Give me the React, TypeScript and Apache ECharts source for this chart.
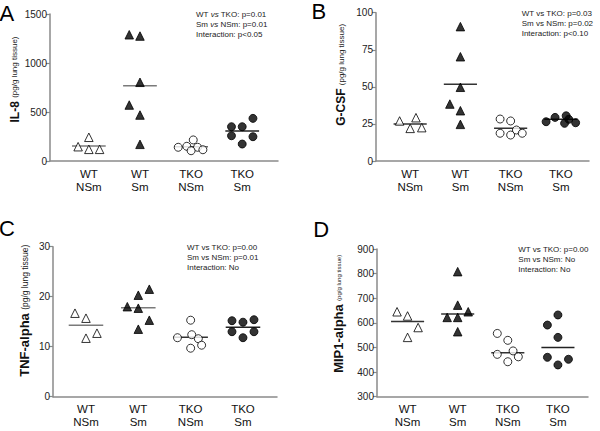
import React, { useEffect, useRef } from 'react';
import * as echarts from 'echarts';

const FONT = "'Liberation Sans', Arial, Helvetica, sans-serif";
const groupLabels = ['WT\nNSm', 'WT\nSm', 'TKO\nNSm', 'TKO\nSm'];
const jitterSlot = 0.21;

// Panel A: IL-8
const il8WtNSm = [242, 146, 119, 119];
const il8WtNSmJit = [0, -1, 0, 1];
const il8WtSm = [1288, 1275, 803, 571, 469, 170];
const il8WtSmJit = [-1, 0, 0, -1, 0, 0];
const il8TkoNSm = [215, 140, 150, 140, 105, 115];
const il8TkoNSmJit = [0.2, -1.2, -0.4, 0.6, 0.0, 1.1];
const il8TkoSm = [350, 350, 435, 258, 248, 173];
const il8TkoSmJit = [-1, 0, 1, -1, 1, 0];
const il8Means = [153, 768, 146, 306];

// Panel B: G-CSF
const gcsfWtNSm = [27.0, 29.2, 22.0, 22.5];
const gcsfWtNSmJit = [-1, 0.55, 0, 1.1];
const gcsfWtSm = [90.6, 70.3, 49.7, 38.4, 33.9, 24.7];
const gcsfWtSmJit = [0, 0, 0, -1, 0, 0];
const gcsfTkoNSm = [28.3, 27.0, 18.7, 17.5, 20.9, 18.7];
const gcsfTkoNSmJit = [-1, 0, -1, 0, 0.55, 1.1];
const gcsfTkoSm = [26.5, 29.4, 30.5, 28.1, 25.4, 25.8];
const gcsfTkoSmJit = [-1.4, -0.55, 0.5, 0.75, 0.35, 1.4];
const gcsfMeans = [25, 51.7, 22, 28.1];

// Panel C: TNF-alpha
const tnfWtNSm = [16.7, 15.7, 11.7, 12.7];
const tnfWtNSmJit = [-1, 0, 0, 1];
const tnfWtSm = [21.5, 20.3, 18.0, 17.7, 15.3, 13.5];
const tnfWtSmJit = [1, 0, -1, 0, 1, 0];
const tnfTkoNSm = [15.3, 11.8, 12.4, 11.6, 9.7, 10.3];
const tnfTkoNSmJit = [0, -1.2, 0.1, 0.7, 0, 1.0];
const tnfTkoSm = [15.2, 14.9, 15.4, 13.0, 13.0, 11.8];
const tnfTkoSmJit = [-1, 0, 1, -1, 1, 0];
const tnfMeans = [14.3, 17.8, 11.9, 13.9];

// Panel D: MIP1-alpha
const mipWtNSm = [645, 628, 581, 541];
const mipWtNSmJit = [-1, 0, 1, 0];
const mipWtSm = [808, 672, 622, 622, 645, 564];
const mipWtSmJit = [0, 0, -1, 0, 1, 0];
const mipTkoNSm = [557, 529, 486, 472, 462, 442];
const mipTkoNSmJit = [-1, 0, 0.5, -1, 1, 0];
const mipTkoSm = [632, 591, 541, 460, 429, 452];
const mipTkoSmJit = [0, -1, 0, -1, 0, 1];
const mipMeans = [605, 636, 479, 500];

const statsA = ['WT {i|vs} TKO: p=0.01', 'Sm {i|vs} NSm: p=0.01', 'Interaction: p<0.05'];
const statsB = ['WT vs TKO: p=0.03', 'Sm vs NSm: p=0.02', 'Interaction: p<0.10'];
const statsC = ['WT vs TKO: p=0.00', 'Sm vs NSm: p=0.01', 'Interaction: No'];
const statsD = ['WT vs TKO: p=0.00', 'Sm vs NSm: No', 'Interaction: No'];

type PanelCfg = {
  grid: { left: number; top: number; width: number; height: number };
  xMin: number; xMax: number;
  yMin: number; yMax: number; yInterval: number;
  name: string; boldSize: number; smallSize: number; nameGap: number; namePad: number;
  groups: number[][]; jits: number[][]; means: number[]; lineColors: string[];
};

const markerStyles = [
  { symbol: 'triangle', fill: '#ffffff' },
  { symbol: 'triangle', fill: '#000000' },
  { symbol: 'circle', fill: '#ffffff' },
  { symbol: 'circle', fill: '#000000' },
];

const panels: PanelCfg[] = [
  {
    grid: { left: 50, top: 14, width: 228, height: 147 },
    xMin: 0.24, xMax: 4.7, yMin: 0, yMax: 1500, yInterval: 500,
    name: 'IL-8', boldSize: 12, smallSize: 8, nameGap: 27, namePad: 16,
    groups: [il8WtNSm, il8WtSm, il8TkoNSm, il8TkoSm],
    jits: [il8WtNSmJit, il8WtSmJit, il8TkoNSmJit, il8TkoSmJit],
    means: il8Means, lineColors: ['#7a7a7a', '#7a7a7a', '#666666', '#222222'],
  },
  {
    grid: { left: 376, top: 12.7, width: 213, height: 148.3 },
    xMin: 0.32, xMax: 4.56, yMin: 0, yMax: 100, yInterval: 25,
    name: 'G-CSF', boldSize: 12, smallSize: 8, nameGap: 29, namePad: 24,
    groups: [gcsfWtNSm, gcsfWtSm, gcsfTkoNSm, gcsfTkoSm],
    jits: [gcsfWtNSmJit, gcsfWtSmJit, gcsfTkoNSmJit, gcsfTkoSmJit],
    means: gcsfMeans, lineColors: ['#333333', '#333333', '#333333', '#222222'],
  },
  {
    grid: { left: 53, top: 246.7, width: 224, height: 150 },
    xMin: 0.37, xMax: 4.65, yMin: 0, yMax: 30, yInterval: 10,
    name: 'TNF-alpha', boldSize: 13, smallSize: 8.5, nameGap: 22, namePad: 22,
    groups: [tnfWtNSm, tnfWtSm, tnfTkoNSm, tnfTkoSm],
    jits: [tnfWtNSmJit, tnfWtSmJit, tnfTkoNSmJit, tnfTkoSmJit],
    means: tnfMeans, lineColors: ['#7a7a7a', '#7a7a7a', '#333333', '#222222'],
  },
  {
    grid: { left: 377, top: 249, width: 211, height: 147.7 },
    xMin: 0.39, xMax: 4.6, yMin: 300, yMax: 900, yInterval: 100,
    name: 'MIP1-alpha', boldSize: 13, smallSize: 6, nameGap: 32, namePad: 18,
    groups: [mipWtNSm, mipWtSm, mipTkoNSm, mipTkoSm],
    jits: [mipWtNSmJit, mipWtSmJit, mipTkoNSmJit, mipTkoSmJit],
    means: mipMeans, lineColors: ['#333333', '#333333', '#333333', '#222222'],
  },
];

function buildOption() {
  const grid: any[] = [];
  const xAxis: any[] = [];
  const yAxis: any[] = [];
  const series: any[] = [];
  panels.forEach((p, pi) => {
    grid.push({ ...p.grid, containLabel: false });
    xAxis.push({
      type: 'value', gridIndex: pi, min: p.xMin, max: p.xMax,
      axisLine: { show: true, lineStyle: { color: '#8a8a8a', width: 1.5 } },
      axisTick: { show: false },
      splitLine: { show: false },
      axisLabel: {
        customValues: [1, 2, 3, 4],
        formatter: (v: number) => groupLabels[Math.round(v) - 1] ?? '',
        fontFamily: FONT, fontSize: 11.5, lineHeight: 13, color: '#111', margin: 6,
      },
    });
    yAxis.push({
      type: 'value', gridIndex: pi, min: p.yMin, max: p.yMax, interval: p.yInterval,
      axisLine: { show: true, lineStyle: { color: '#8a8a8a', width: 1.5 } },
      axisTick: { show: true, length: 4, lineStyle: { color: '#8a8a8a', width: 1.2 } },
      splitLine: { show: false },
      axisLabel: {
        fontFamily: FONT, fontSize: 10, color: '#222', margin: 3,
        formatter: (v: number) => String(v),
      },
      name: `{b|${p.name}} {s|(pg/g lung tissue)}`,
      nameLocation: 'middle', nameRotate: 90, nameGap: p.nameGap,
      nameTextStyle: {
        padding: [0, 0, 0, p.namePad],
        rich: {
          b: { fontFamily: FONT, fontSize: p.boldSize, fontWeight: 'bold', color: '#111' },
          s: { fontFamily: FONT, fontSize: p.smallSize, color: '#222' },
        },
      },
    });
    p.groups.forEach((vals, gi) => {
      const ms = markerStyles[gi];
      series.push({
        type: 'scatter', xAxisIndex: pi, yAxisIndex: pi,
        symbol: ms.symbol, symbolSize: ms.symbol === 'triangle' ? 8.5 : 8,
        itemStyle: { color: ms.fill, borderColor: '#000', borderWidth: 1 },
        data: vals.map((v, k) => [gi + 1 + p.jits[gi][k] * jitterSlot, v]),
        z: 3,
      });
      series.push({
        type: 'line', xAxisIndex: pi, yAxisIndex: pi, symbol: 'none',
        lineStyle: { color: p.lineColors[gi], width: 1.5 },
        data: [[gi + 1 - 0.33, p.means[gi]], [gi + 1 + 0.33, p.means[gi]]],
        z: 2,
      });
    });
  });

  const statText = (lines: string[], x: number, ys: number[], italic: boolean) =>
    lines.map((t, i) => ({
      type: 'text', x, y: ys[i],
      style: {
        text: italic ? t : t.replace(/\{i\|vs\}/g, 'vs'),
        fontFamily: FONT, fontSize: 8, fill: '#222', verticalAlign: 'middle',
        rich: { i: { fontFamily: FONT, fontSize: 8, fontStyle: 'italic', fill: '#222' } },
      },
    }));

  const letter = (t: string, x: number, y: number) => ({
    type: 'text', x, y,
    style: { text: t, fontFamily: FONT, fontSize: 22, fill: '#000', verticalAlign: 'middle' },
  });

  const graphic = [
    letter('A', -0.5, 13), letter('B', 311.5, 11.8), letter('C', -1, 228.5), letter('D', 313.3, 229.2),
    ...statText(statsA, 196, [14, 24, 34], true),
    ...statText(statsB, 521.7, [13.3, 23.7, 33.5], false),
    ...statText(statsC, 187, [247.7, 257.7, 267.7], false),
    ...statText(statsD, 518.3, [249, 259, 269], false),
  ];

  return { animation: false, backgroundColor: '#ffffff', grid, xAxis, yAxis, series, graphic };
}

export default function App() {
  const ref = useRef<HTMLDivElement>(null);
  useEffect(() => {
    if (!ref.current) return;
    const chart = echarts.init(ref.current, undefined, { renderer: 'svg' });
    chart.setOption(buildOption() as any);
    return () => chart.dispose();
  }, []);
  return <div ref={ref} style={{ width: 600, height: 431, position: 'absolute', left: 0, top: 0 }} />;
}
